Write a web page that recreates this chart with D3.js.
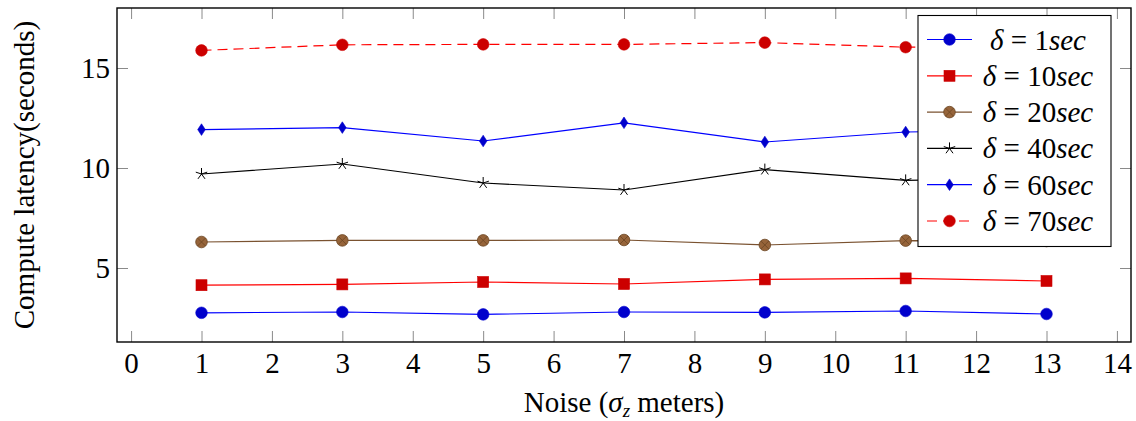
<!DOCTYPE html>
<html>
<head>
<meta charset="utf-8">
<script src="https://d3js.org/d3.v7.min.js"></script>
<style>
  body { margin: 0; background: #fff; }
  svg { display: block; }
  text { font-family: "Liberation Serif", "DejaVu Serif", serif; fill: #000; }
</style>
</head>
<body>
<svg></svg>
<script>
var noise = [1, 3, 5, 7, 9, 11, 13];
var d1  = [2.76, 2.8, 2.68, 2.8, 2.78, 2.85, 2.7];
var d10 = [4.14, 4.18, 4.3, 4.2, 4.43, 4.48, 4.35];
var d20 = [6.3, 6.38, 6.38, 6.4, 6.15, 6.37, 6.35];
var d40 = [9.7, 10.2, 9.25, 8.9, 9.92, 9.38, 9.5];
var d60 = [11.92, 12.02, 11.35, 12.26, 11.3, 11.8, 11.9];
var d70 = [15.88, 16.16, 16.18, 16.18, 16.27, 16.04, 16.1];
var seriesNames = ["1", "10", "20", "40", "60", "70"];
var xTicks = [0,1,2,3,4,5,6,7,8,9,10,11,12,13,14];
var yTicks = [5, 10, 15];

var width = 1136;
var height = 421;
var pLeft = 117, pRight = 1131, pTop = 8, pBottom = 342;

var svg = d3.select("svg")
            .attr("width", width)
            .attr("height", height);

var xScale = d3.scaleLinear()
               .domain([-0.2, 14.2])
               .range([pLeft, pRight]);

var yScale = d3.scaleLinear()
               .domain([1.3, 18.0])
               .range([pBottom, pTop]);

// ticks on all four sides, pointing inward
var tickStyle = function(g){
  g.select(".domain").remove();
  g.attr("font-family", null).attr("font-size", null);
  g.selectAll(".tick line").attr("stroke", "#8a8a8a").attr("stroke-width", 1);
  g.selectAll(".tick text").style("font-size", "29px");
};

svg.append("g")
   .attr("transform", "translate(0," + pBottom + ")")
   .call(d3.axisBottom(xScale).tickValues(xTicks).tickSize(-11).tickPadding(10.5))
   .call(tickStyle);

svg.append("g")
   .attr("transform", "translate(0," + pTop + ")")
   .call(d3.axisTop(xScale).tickValues(xTicks).tickSize(-11).tickFormat(""))
   .call(tickStyle);

svg.append("g")
   .attr("transform", "translate(" + pLeft + ",0)")
   .call(d3.axisLeft(yScale).tickValues(yTicks).tickSize(-11).tickPadding(7))
   .call(tickStyle);

svg.append("g")
   .attr("transform", "translate(" + pRight + ",0)")
   .call(d3.axisRight(yScale).tickValues(yTicks).tickSize(-11).tickFormat(""))
   .call(tickStyle);

var series = [
  {values: d1,  line: "#0000ff", fill: "#0000cc", stroke: "#0000cc", mark: "circle", dash: null},
  {values: d10, line: "#ff0000", fill: "#cc0000", stroke: "#cc0000", mark: "square", dash: null},
  {values: d20, line: "#7a5230", fill: "#96643a", stroke: "#6b4522", mark: "otimes", dash: null},
  {values: d40, line: "#000000", fill: "none",    stroke: "#000000", mark: "star",   dash: null},
  {values: d60, line: "#0000ff", fill: "#0000cc", stroke: "#0000cc", mark: "diamond", dash: null},
  {values: d70, line: "#ff0000", fill: "#cc0000", stroke: "#cc0000", mark: "circle", dash: "10,6"}
];

var line = d3.line()
             .x(function(d){ return xScale(d.x); })
             .y(function(d){ return yScale(d.y); });

var drawMark = function(g, s, cx, cy){
  var m = g.append("g").attr("transform", "translate(" + cx + "," + cy + ")");
  if (s.mark == "circle") {
    m.append("circle").attr("r", 5.8).attr("fill", s.fill).attr("stroke", s.stroke).attr("stroke-width", 0.6);
  } else if (s.mark == "square") {
    m.append("rect").attr("x", -5.5).attr("y", -5.5).attr("width", 11).attr("height", 11)
     .attr("fill", s.fill).attr("stroke", s.stroke).attr("stroke-width", 0.6);
  } else if (s.mark == "otimes") {
    m.append("circle").attr("r", 5.8).attr("fill", s.fill).attr("stroke", s.stroke).attr("stroke-width", 0.8);
    m.append("path").attr("d", "M-4,-4L4,4M-4,4L4,-4").attr("stroke", s.stroke).attr("stroke-width", 0.8);
  } else if (s.mark == "star") {
    var p = "";
    for (var k = 0; k < 5; k++) {
      var a = -Math.PI / 2 + k * 2 * Math.PI / 5;
      p += "M0,0L" + (6 * Math.cos(a)).toFixed(2) + "," + (6 * Math.sin(a)).toFixed(2);
    }
    m.append("path").attr("d", p).attr("stroke", s.stroke).attr("stroke-width", 1).attr("fill", "none");
  } else if (s.mark == "diamond") {
    m.append("path").attr("d", "M0,-5.8L3.8,0L0,5.8L-3.8,0Z").attr("fill", s.fill).attr("stroke", s.stroke).attr("stroke-width", 0.6);
  }
};

var plot = svg.append("g");

series.forEach(function(s){
  var pts = noise.map(function(x, i){ return {x: x, y: s.values[i]}; });
  plot.append("path")
      .datum(pts)
      .attr("d", line)
      .attr("fill", "none")
      .attr("stroke", s.line)
      .attr("stroke-width", 1.2)
      .attr("stroke-dasharray", s.dash);
  pts.forEach(function(p){
    drawMark(plot, s, xScale(p.x), yScale(p.y));
  });
});

// frame
svg.append("rect")
   .attr("x", pLeft).attr("y", pTop)
   .attr("width", pRight - pLeft).attr("height", pBottom - pTop)
   .attr("fill", "none").attr("stroke", "#000").attr("stroke-width", 1.4);

// legend
var legend = svg.append("g");
legend.append("rect")
      .attr("x", 918).attr("y", 15.5)
      .attr("width", 193).attr("height", 231)
      .attr("fill", "#fff").attr("stroke", "#000").attr("stroke-width", 1.1);

series.forEach(function(s, i){
  var ly = 39.5 + i * 36.3;
  legend.append("line")
        .attr("x1", 927).attr("x2", 972).attr("y1", ly).attr("y2", ly)
        .attr("stroke", s.line).attr("stroke-width", 1.2)
        .attr("stroke-dasharray", s.dash);
  drawMark(legend, s, 949.5, ly);
  var t = legend.append("text")
                .attr("x", 1038).attr("y", ly + 10)
                .attr("text-anchor", "middle")
                .style("font-size", "29px");
  t.append("tspan").style("font-style", "italic").text("δ");
  t.append("tspan").text(" = " + seriesNames[i]);
  t.append("tspan").style("font-style", "italic").text("sec");
});

// axis labels
var xl = svg.append("text")
            .attr("x", 624).attr("y", 412)
            .attr("text-anchor", "middle")
            .style("font-size", "29px");
xl.append("tspan").text("Noise (");
xl.append("tspan").style("font-style", "italic").text("σ");
xl.append("tspan").style("font-style", "italic").style("font-size", "19px").attr("dy", 5).text("z");
xl.append("tspan").attr("dy", -5).text(" meters)");

svg.append("text")
   .attr("transform", "translate(34," + (pTop + pBottom) / 2 + ") rotate(-90)")
   .attr("text-anchor", "middle")
   .style("font-size", "29px")
   .text("Compute latency(seconds)");
</script>
</body>
</html>
